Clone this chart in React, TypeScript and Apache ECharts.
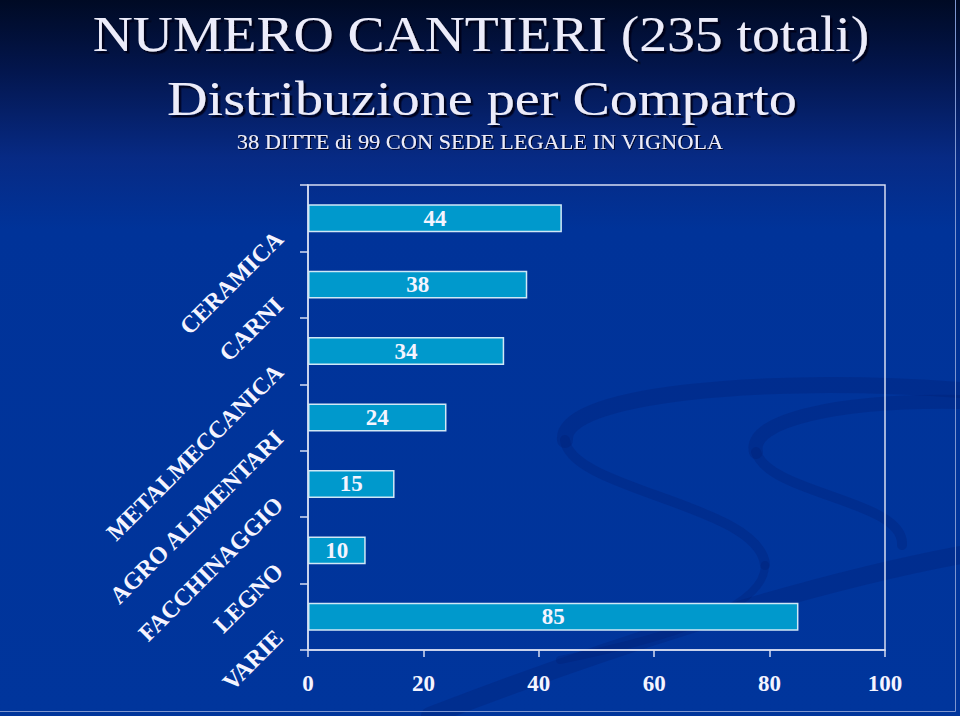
import React, { useEffect, useRef } from "react";
import * as echarts from "echarts";

const categories = [
  "CERAMICA",
  "CARNI",
  "METALMECCANICA",
  "AGRO ALIMENTARI",
  "FACCHINAGGIO",
  "LEGNO",
  "VARIE",
];
const values = [44, 38, 34, 24, 15, 10, 85];
const xMin = 0;
const xMax = 100;
const xInterval = 20;

const titleLine1 = "NUMERO CANTIERI (235 totali)";
const titleLine2 = "Distribuzione per Comparto";
const subtitle = "38 DITTE di 99 CON SEDE LEGALE IN VIGNOLA";

const SERIF = "'Liberation Serif', 'Times New Roman', serif";
const TEXT_COLOR = "#ECECFA";

function fitScale(text: string, font: string, target: number): number {
  try {
    const c = document.createElement("canvas");
    const ctx = c.getContext("2d");
    if (!ctx) return 1;
    ctx.font = font;
    const w = ctx.measureText(text).width;
    return w > 0 ? target / w : 1;
  } catch (e) {
    return 1;
  }
}

function titleText(text: string, size: number, weight: string, cx: number, cy: number, target: number, shadow: number) {
  const font = `${weight} ${size}px 'Liberation Serif'`;
  const s = fitScale(text, font, target);
  return {
    type: "text",
    x: cx,
    y: cy,
    scaleX: s,
    z: 10,
    style: {
      text,
      x: 0,
      y: 0,
      fill: TEXT_COLOR,
      font: `${weight} ${size}px ${SERIF}`,
      textAlign: "center",
      textVerticalAlign: "middle",
      textShadowColor: "rgba(0,0,20,0.9)",
      textShadowOffsetX: shadow,
      textShadowOffsetY: shadow,
      textShadowBlur: 1,
    },
  };
}

function swoosh(x1: number, y1: number, cpx1: number, cpy1: number, cpx2: number, cpy2: number, x2: number, y2: number, w: number) {
  return {
    type: "bezierCurve",
    z: -5,
    silent: true,
    shape: { x1, y1, cpx1, cpy1, cpx2, cpy2, x2, y2 },
    style: { stroke: "rgba(0,28,110,0.26)", lineWidth: w, fill: null, lineCap: "round" },
  };
}

export default function App() {
  const ref = useRef<HTMLDivElement>(null);

  useEffect(() => {
    if (!ref.current) return;
    const chart = echarts.init(ref.current, null, { renderer: "svg" });

    const option: any = {
      animation: false,
      backgroundColor: new echarts.graphic.LinearGradient(0, 0, 0, 1, [
        { offset: 0, color: "#000a24" },
        { offset: 0.1, color: "#03164e" },
        { offset: 0.22, color: "#072a84" },
        { offset: 0.32, color: "#003399" },
        { offset: 1, color: "#00359c" },
      ]),
      graphic: [
        swoosh(960, 390, 760, 375, 560, 395, 565, 440, 16),
        swoosh(565, 440, 570, 490, 760, 505, 765, 565, 10),
        swoosh(765, 565, 765, 610, 660, 640, 560, 660, 8),
        swoosh(960, 402, 840, 400, 748, 420, 756, 452, 14),
        swoosh(756, 452, 770, 495, 905, 500, 902, 545, 10),
        swoosh(430, 716, 600, 650, 800, 585, 960, 555, 18),
        {
          type: "polyline",
          z: 20,
          silent: true,
          shape: { points: [[955.5, 0], [955.5, 711.5], [0, 711.5]] },
          style: { stroke: "#7d95cf", lineWidth: 1, fill: null },
        },
        titleText(titleLine1, 50, "normal", 481, 34, 777, 2.5),
        titleText(titleLine2, 48, "normal", 482, 98, 630, 2.5),
        titleText(subtitle, 20, "normal", 480, 142, 487, 1),
      ],
      grid: {
        left: 308,
        right: 75,
        top: 185,
        bottom: 66,
        show: true,
        borderColor: "#D6DDF2",
        borderWidth: 1.5,
        backgroundColor: "transparent",
      },
      xAxis: {
        type: "value",
        min: xMin,
        max: xMax,
        interval: xInterval,
        axisLine: { show: true, lineStyle: { color: "#D6DDF2", width: 1.5 } },
        axisTick: { show: true, length: 7, lineStyle: { color: "#D6DDF2", width: 1.5 } },
        splitLine: { show: false },
        axisLabel: {
          color: "#F4F4FF",
          fontFamily: SERIF,
          fontWeight: "bold",
          fontSize: 23,
          margin: 22,
        },
      },
      yAxis: {
        type: "category",
        data: categories,
        inverse: true,
        axisLine: { show: true, lineStyle: { color: "#D6DDF2", width: 1.5 } },
        axisTick: { show: true, length: 8, lineStyle: { color: "#D6DDF2", width: 1.5 } },
        splitLine: { show: false },
        axisLabel: {
          rotate: 45,
          color: "#F4F4FF",
          fontFamily: SERIF,
          fontWeight: "bold",
          fontSize: 24,
          margin: 29,
          verticalAlign: "top",
          padding: [0, 12, 0, 0],
        },
      },
      series: [
        {
          type: "bar",
          data: values,
          barWidth: "42%",
          itemStyle: { color: "#0099CC", borderColor: "#CFE8F6", borderWidth: 1.5 },
          label: {
            show: true,
            position: "inside",
            color: "#F4F4FF",
            fontFamily: SERIF,
            fontWeight: "bold",
            fontSize: 23,
          },
        },
      ],
    };

    chart.setOption(option);
    return () => chart.dispose();
  }, []);

  return (
    <div
      ref={ref}
      style={{ position: "fixed", left: 0, top: 0, width: 960, height: 716 }}
    />
  );
}
